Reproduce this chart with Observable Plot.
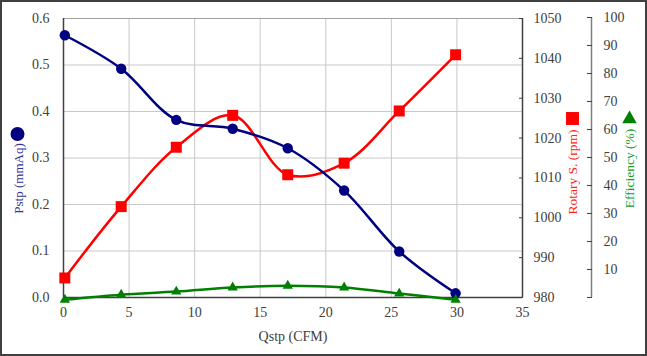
<!DOCTYPE html>
<html><head><meta charset="utf-8">
<script src="https://cdn.jsdelivr.net/npm/d3@7"></script>
<script src="https://cdn.jsdelivr.net/npm/@observablehq/plot@0.6"></script>
<style>
body{margin:0;background:#fff}
#wrap{position:relative;width:647px;height:356px;}
#wrap svg{display:block;font-family:"Liberation Serif","Times New Roman",serif;color:#404040;background:#fff}
#wrap svg text, #wrap svg g{font-family:"Liberation Serif","Times New Roman",serif !important;font-variant:normal !important}
#border{position:absolute;left:0;top:0;width:647px;height:356px;box-sizing:border-box;border:2px solid #404040;pointer-events:none}
</style></head><body>
<div id="wrap"><div id="border"></div></div>
<script>
// Data
const qstp = [0.1, 4.4, 8.6, 12.9, 17.1, 21.4, 25.6, 29.9];
const pstp = [0.564, 0.492, 0.382, 0.363, 0.321, 0.230, 0.099, 0.009];
const rotary = [984.9, 1002.8, 1017.7, 1025.7, 1010.8, 1013.7, 1026.8, 1040.9];
const efficiency = [-0.8, 1.0, 2.1, 3.6, 4.2, 3.6, 1.4, -0.8];

const xTicks = [0, 5, 10, 15, 20, 25, 30, 35];
const pstpTicks = [0, 0.1, 0.2, 0.3, 0.4, 0.5, 0.6];
const rpmTicks = [980, 990, 1000, 1010, 1020, 1030, 1040, 1050];
const effTicks = [0, 10, 20, 30, 40, 50, 60, 70, 80, 90, 100];

// secondary axes mapped onto the primary y scale
const rpmMin = 980, rpmMax = 1050, pMax = 0.6;
const effScale = 0.6 / 100 * (280 / 279);
const rpmToY = v => (v - rpmMin) / (rpmMax - rpmMin) * pMax;
const effToY = v => v * effScale;

const pData = qstp.map((x, i) => ({x, y: pstp[i]}));
const rData = qstp.map((x, i) => ({x, y: rpmToY(rotary[i])}));
const eData = qstp.map((x, i) => ({x, y: effToY(efficiency[i])}));

const navy = "#000080", red = "#ff0000", green = "#008000";
const gridColor = "#c8c8c8", axisColor = "#404040";
const fs = 14;
const serif = "'Liberation Serif','Times New Roman',serif";

const chart = Plot.plot({
  width: 647, height: 356,
  marginLeft: 63, marginRight: 125, marginTop: 18, marginBottom: 59,
  x: {domain: [0, 35]},
  y: {domain: [0, 0.6]},
  style: "font-family:'Liberation Serif','Times New Roman',serif;font-size:14px;color:#404040;background:white;",
  marks: [
    // grid
    Plot.ruleX(xTicks.slice(1, -1), {stroke: gridColor, strokeWidth: 1}),
    Plot.ruleY(pstpTicks.slice(1, -1), {stroke: gridColor, strokeWidth: 1}),
    Plot.ruleY([0.6], {stroke: "#a0a0a0", strokeWidth: 1}),
    // axis lines
    Plot.ruleX([0], {stroke: axisColor, strokeWidth: 1.5}),
    Plot.ruleX([35], {stroke: axisColor, strokeWidth: 1.5}),
    Plot.ruleY([0], {stroke: axisColor, strokeWidth: 1.5}),
    Plot.ruleX([35], {dx: 69, y1: 0, y2: effToY(100), stroke: "#808080", strokeWidth: 1.5}),
    // axes
    Plot.axisX(xTicks, {tickSize: 0, tickPadding: 10, fontSize: fs, fontFamily: serif, label: null}),
    Plot.axisY(pstpTicks, {anchor: "left", tickSize: 0, tickPadding: 14, fontSize: fs, fontFamily: serif, tickFormat: d => d.toFixed(1), label: null}),
    Plot.axisY(rpmTicks.map(rpmToY), {anchor: "right", tickSize: -4, tickPadding: 15, stroke: axisColor, fontSize: fs, fontFamily: serif,
      tickFormat: d => String(Math.round(rpmMin + d / pMax * (rpmMax - rpmMin))), label: null}),
    Plot.axisY(effTicks.map(effToY), {anchor: "right", dx: 69, tickSize: -5, tickPadding: 17, stroke: axisColor, fontSize: fs, fontFamily: serif,
      tickFormat: d => { const v = Math.round(d / effScale); return v === 0 ? "" : String(v); }, label: null}),
    // series
    Plot.line(rData, {x: "x", y: "y", stroke: red, strokeWidth: 2.5, curve: "catmull-rom"}),
    Plot.dot(rData, {x: "x", y: "y", symbol: "square", r: 6.2, fill: red}),
    Plot.line(pData, {x: "x", y: "y", stroke: navy, strokeWidth: 2.5, curve: "catmull-rom"}),
    Plot.dot(pData, {x: "x", y: "y", symbol: "circle", r: 5.2, fill: navy}),
    Plot.line(eData, {x: "x", y: "y", stroke: green, strokeWidth: 2.5, curve: "catmull-rom"}),
    Plot.dot(eData, {x: "x", y: "y", symbol: "triangle", r: 3.8, fill: green}),
    // titles
    Plot.text(["Qstp (CFM)"], {text: d => d, frameAnchor: "bottom", textAnchor: "middle", dy: 43, fill: "#404040", fontSize: fs, fontFamily: serif}),
    Plot.text(["Pstp (mmAq)"], {text: d => d, frameAnchor: "left", textAnchor: "middle", rotate: -90, dx: -45, dy: 20.5, fill: "#333399", fontSize: 13, fontFamily: serif}),
    Plot.dot([0], {frameAnchor: "left", dx: -46, dy: -24, r: 7, symbol: "circle", fill: navy}),
    Plot.text(["Rotary S. (rpm)"], {text: d => d, frameAnchor: "right", textAnchor: "middle", rotate: -90, dx: 50.5, dy: 14, fill: "#ff2020", fontSize: 13.5, fontFamily: serif}),
    Plot.dot([0], {frameAnchor: "right", dx: 50, dy: -39.5, r: 7.3, symbol: "square", fill: red}),
    Plot.text(["Efficiency (%)"], {text: d => d, frameAnchor: "right", textAnchor: "middle", rotate: -90, dx: 107, dy: 10.5, fill: "#1a9a1a", fontSize: 13.5, fontFamily: serif}),
    Plot.dot([0], {frameAnchor: "right", dx: 107, dy: -39, r: 5.4, symbol: "triangle", fill: green})
  ]
});
document.getElementById("wrap").prepend(chart);
</script>
</body></html>
